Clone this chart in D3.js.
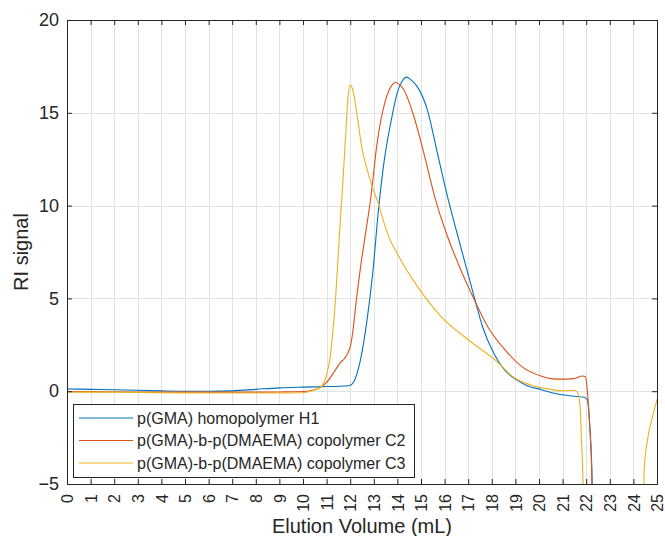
<!DOCTYPE html>
<html>
<head>
<meta charset="utf-8">
<script src="https://cdn.jsdelivr.net/npm/d3@7"></script>
<style>
  body { margin: 0; background: #fff; }
  text { font-family: "Liberation Sans", Arial, Helvetica, sans-serif; fill: #262626; }
</style>
</head>
<body>
<svg id="svg-main" width="665" height="536"></svg>
<script>
// elution volume (mL) / RI signal
var h1Vol = [0, 1, 2, 3, 4, 5, 6, 7, 8, 9, 10, 11, 11.8, 12.0, 12.14, 12.3, 12.44, 12.58, 12.72, 12.95, 13.2, 13.45, 13.71, 13.99, 14.2, 14.39, 14.6, 14.84, 15.27, 15.69, 16.12, 16.7, 17.25, 17.6, 18.1, 18.5, 19.0, 19.5, 20.1, 20.9, 21.5, 21.9, 22.05, 22.12, 22.18, 22.24, 22.3];
var h1Sig = [0.12, 0.1, 0.08, 0.05, 0.02, 0.0, 0.0, 0.02, 0.1, 0.18, 0.22, 0.25, 0.28, 0.32, 0.48, 1.0, 1.72, 2.7, 3.9, 6.3, 9.8, 12.5, 14.4, 16.06, 16.7, 16.92, 16.75, 16.41, 15.16, 12.85, 10.5, 7.7, 5.1, 3.5, 2.0, 1.2, 0.65, 0.3, 0.08, -0.18, -0.27, -0.33, -0.45, -1.2, -2.5, -4.2, -8];

var c2Vol = [0, 2, 4, 6, 8, 9, 10, 10.4, 10.74, 11.0, 11.3, 11.59, 11.75, 11.9, 12.02, 12.12, 12.25, 12.44, 12.65, 12.86, 13.14, 13.5, 13.75, 13.92, 14.1, 14.27, 14.7, 15.12, 15.62, 16.12, 16.68, 17.25, 17.81, 18.66, 19.3, 20.08, 20.5, 20.93, 21.48, 21.85, 21.97, 22.03, 22.08, 22.13, 22.23, 22.28];
var c2Sig = [-0.02, -0.03, -0.05, -0.05, -0.05, -0.04, -0.02, 0.05, 0.2, 0.47, 1.0, 1.55, 1.75, 2.05, 2.5, 3.3, 4.8, 6.7, 8.5, 10.3, 13.37, 15.7, 16.45, 16.65, 16.5, 16.24, 14.8, 12.83, 10.3, 8.35, 6.56, 4.95, 3.51, 2.08, 1.3, 0.82, 0.68, 0.65, 0.68, 0.82, 0.78, 0.3, -0.5, -1.5, -4.2, -8];

var c3Vol = [0, 2, 4, 6, 8, 9, 10, 10.44, 10.8, 11.02, 11.16, 11.25, 11.38, 11.52, 11.66, 11.8, 11.91, 12.0, 12.08, 12.15, 12.3, 12.51, 12.72, 12.93, 13.14, 13.57, 14.13, 14.84, 15.83, 16.97, 18.1, 18.94, 19.79, 20.5, 20.93, 21.49, 21.63, 21.74, 21.8, 21.85, 21.92, 24.4, 24.46, 24.6, 24.82, 25.0];
var c3Sig = [-0.05, -0.05, -0.08, -0.1, -0.1, -0.1, -0.08, 0.05, 0.28, 1.0, 1.9, 3.0, 5.0, 7.9, 10.7, 13.6, 15.9, 16.5, 16.35, 16.0, 14.8, 13.0, 11.94, 11.04, 10.3, 8.53, 7.1, 5.66, 4.05, 2.8, 1.72, 0.74, 0.28, 0.1, 0.02, 0.05, -0.07, -0.8, -2.6, -4.2, -8, -8, -4.2, -2.6, -1.33, -0.45];

var seriesNames = ["p(GMA) homopolymer H1", "p(GMA)-b-p(DMAEMA) copolymer C2", "p(GMA)-b-p(DMAEMA) copolymer C3"];
var seriesColors = ["#0072BD", "#D95319", "#EDB120"];
var xTicks = d3.range(0, 26, 1);
var yTicks = [-5, 0, 5, 10, 15, 20];

var series = [
    { name: seriesNames[0], color: seriesColors[0], pts: h1Vol.map(function(v, i) { return [v, h1Sig[i]]; }) },
    { name: seriesNames[1], color: seriesColors[1], pts: c2Vol.map(function(v, i) { return [v, c2Sig[i]]; }) },
    { name: seriesNames[2], color: seriesColors[2], pts: c3Vol.map(function(v, i) { return [v, c3Sig[i]]; }) }
];

var plotL = 67, plotR = 657, plotT = 20, plotB = 484;
var svg = d3.select("#svg-main");

var x = d3.scaleLinear().domain([0, 25]).range([plotL, plotR]);
var y = d3.scaleLinear().domain([-5, 20]).range([plotB, plotT]);

svg.append("defs")
   .append("clipPath")
   .attr("id", "plot-clip")
   .append("rect")
   .attr("x", plotL)
   .attr("y", plotT)
   .attr("width", plotR - plotL)
   .attr("height", plotB - plotT);

// grid
svg.append("g")
   .selectAll("line")
   .data(xTicks)
   .enter()
   .append("line")
   .attr("x1", function(d) { return Math.round(x(d)) + 0.5; })
   .attr("x2", function(d) { return Math.round(x(d)) + 0.5; })
   .attr("y1", plotT)
   .attr("y2", plotB)
   .attr("stroke", "#e3e3e3")
   .attr("stroke-width", 1);

svg.append("g")
   .selectAll("line")
   .data(yTicks)
   .enter()
   .append("line")
   .attr("x1", plotL)
   .attr("x2", plotR)
   .attr("y1", function(d) { return Math.round(y(d)) + 0.5; })
   .attr("y2", function(d) { return Math.round(y(d)) + 0.5; })
   .attr("stroke", "#e3e3e3")
   .attr("stroke-width", 1);

// curves
var line = d3.line()
    .x(function(d) { return x(d[0]); })
    .y(function(d) { return y(d[1]); })
    .curve(d3.curveMonotoneX);

svg.append("g")
   .attr("clip-path", "url(#plot-clip)")
   .selectAll("path")
   .data(series)
   .enter()
   .append("path")
   .attr("d", function(d) { return line(d.pts); })
   .attr("fill", "none")
   .attr("stroke", function(d) { return d.color; })
   .attr("stroke-width", 1.1);

// axes: bottom + left with labels, top + right with bare ticks
var xAxis = d3.axisBottom(x).tickValues(xTicks).tickSize(-5).tickPadding(0).tickFormat(d3.format("d"));
var yAxis = d3.axisLeft(y).tickValues(yTicks).tickSize(-5).tickPadding(8);

var gx = svg.append("g").attr("transform", "translate(0," + plotB + ")").call(xAxis);
gx.selectAll("text")
  .attr("y", 0)
  .attr("x", 0)
  .attr("transform", "translate(0,10) rotate(-90)")
  .attr("dy", "0.35em")
  .style("text-anchor", "end")
  .style("font-size", "16px");

var gy = svg.append("g").attr("transform", "translate(" + plotL + ",0)").call(yAxis);
gy.selectAll("text").style("font-size", "18px");

svg.append("g").attr("transform", "translate(0," + plotT + ")")
   .call(d3.axisTop(x).tickValues(xTicks).tickSize(-5).tickFormat(""));
svg.append("g").attr("transform", "translate(" + plotR + ",0)")
   .call(d3.axisRight(y).tickValues(yTicks).tickSize(-5).tickFormat(""));

svg.selectAll(".domain, .tick line")
   .attr("stroke", "#262626");
svg.selectAll(".tick text").attr("fill", "#262626");

// axis titles
svg.append("text")
   .attr("x", (plotL + plotR) / 2)
   .attr("y", 533)
   .attr("text-anchor", "middle")
   .style("font-size", "20px")
   .text("Elution Volume (mL)");

svg.append("text")
   .attr("transform", "translate(28," + ((plotT + plotB) / 2) + ") rotate(-90)")
   .attr("text-anchor", "middle")
   .style("font-size", "20px")
   .text("RI signal");

// legend
var lg = svg.append("g");
lg.append("rect")
  .attr("x", 73.5)
  .attr("y", 404.5)
  .attr("width", 341)
  .attr("height", 73)
  .attr("fill", "white")
  .attr("stroke", "#262626")
  .attr("stroke-width", 1);

var rows = lg.selectAll("g.row")
    .data(series)
    .enter()
    .append("g")
    .attr("class", "row")
    .attr("transform", function(d, i) { return "translate(0," + (418 + i * 22.5) + ")"; });

rows.append("line")
    .attr("x1", 79)
    .attr("x2", 133)
    .attr("y1", 0)
    .attr("y2", 0)
    .attr("stroke", function(d) { return d.color; })
    .attr("stroke-width", 1.1);

rows.append("text")
    .attr("x", 137)
    .attr("y", 0)
    .attr("dy", "0.35em")
    .style("font-size", "16px")
    .text(function(d) { return d.name; });
</script>
</body>
</html>
